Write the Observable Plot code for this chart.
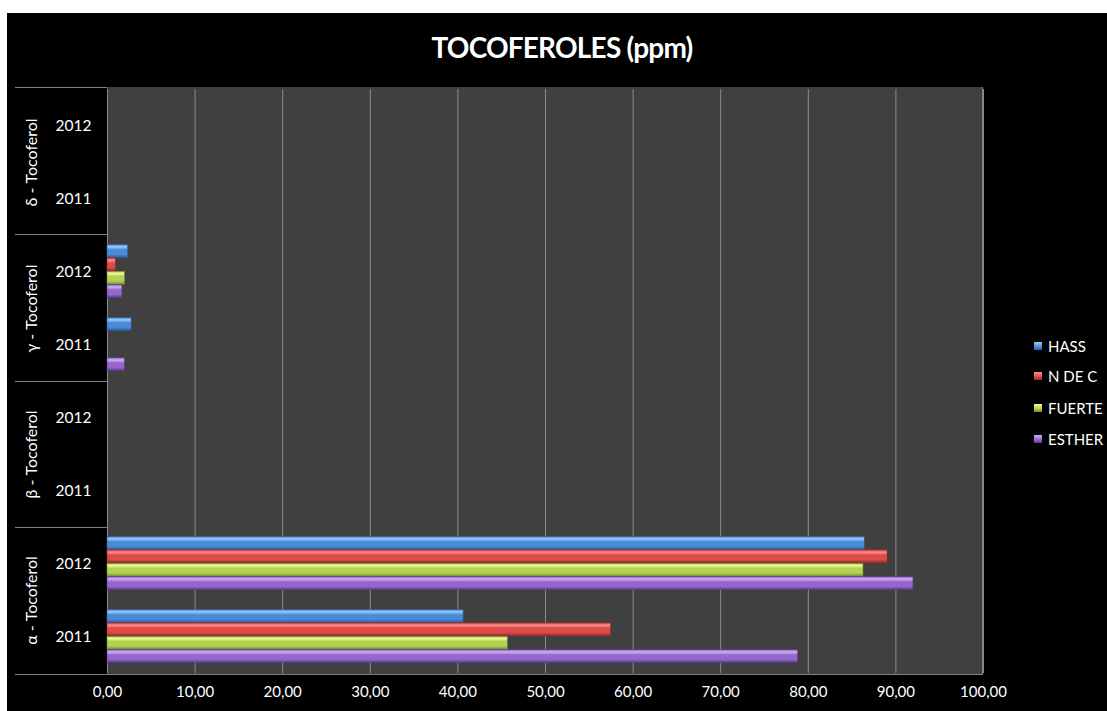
<!DOCTYPE html>
<html>
<head>
<meta charset="utf-8">
<script src="https://cdn.jsdelivr.net/npm/d3@7"></script>
<script src="https://cdn.jsdelivr.net/npm/@observablehq/plot@0.6"></script>
<style>
  html, body { margin: 0; padding: 0; background: #fff; }
  #card { position: absolute; left: 7px; top: 13px; width: 1100px; height: 698px; background: #000; overflow: hidden; font-family: Lato, "Open Sans", sans-serif; color: #fff; }
  #title { position: absolute; left: 0; width: 1110px; top: 17px; line-height: 34px; text-align: center; font-size: 28px; font-weight: bold; letter-spacing: -0.8px; }
  #chart { position: absolute; left: 0; top: 50px; }
  #legend { position: absolute; left: 1027px; top: 0; }
  .item { position: absolute; left: 0; white-space: nowrap; font-size: 15px; line-height: 16px; }
  .sw { position: absolute; left: 0; top: 4px; width: 8px; height: 8px; }
  .lab { position: absolute; left: 14px; top: 0; }
</style>
</head>
<body>
<div id="card">
  <div id="title">TOCOFEROLES (ppm)</div>
  <div id="chart"></div>
  <div id="legend"></div>
</div>
<script>
// ---- data ----
const tocoferoles = ["δ - Tocoferol", "γ - Tocoferol", "β - Tocoferol", "α - Tocoferol"];
const years = ["2012", "2011"];
const series = ["HASS", "N DE C", "FUERTE", "ESTHER"];
// order of values: [α 2011, α 2012, β 2011, β 2012, γ 2011, γ 2012, δ 2011, δ 2012]
const keyToc = ["α - Tocoferol", "α - Tocoferol", "β - Tocoferol", "β - Tocoferol", "γ - Tocoferol", "γ - Tocoferol", "δ - Tocoferol", "δ - Tocoferol"];
const keyYear = ["2011", "2012", "2011", "2012", "2011", "2012", "2011", "2012"];
const hass   = [40.65, 86.45, null, null, 2.75, 2.35, null, null];
const ndec   = [57.50, 89.05, null, null, null, 0.95, null, null];
const fuerte = [45.70, 86.30, null, null, null, 2.00, null, null];
const esther = [78.85, 92.00, null, null, 2.00, 1.70, null, null];
const xTicks = [0, 10, 20, 30, 40, 50, 60, 70, 80, 90, 100];

// colours (light, base, dark)
const palette = [
  ["#9ccaf7", "#4a8bd9", "#2c5c9c"],
  ["#ff8c8c", "#dc4a4a", "#932b2b"],
  ["#ecfa96", "#b3d152", "#6f8d2c"],
  ["#d2aff5", "#9566cb", "#5b3b88"]
];

const valuesBySeries = [hass, ndec, fuerte, esther];
const rows = [];
series.forEach((s, i) => {
  valuesBySeries[i].forEach((v, j) => {
    if (v != null) rows.push({series: s, si: i, toc: keyToc[j], year: keyYear[j], value: v});
  });
});

// ---- layout ----
const W = 1100, H = 648, mT = 24, mB = 37, mL = 100, mR = 124;
const bandH = (H - mT - mB) / tocoferoles.length / years.length;
const pad = 9.5, barH = 13.4;

const fmt = d => d3.format(".2f")(d).replace(".", ",");

const barMarks = series.map((s, i) => Plot.barX(rows.filter(d => d.si === i), {
  x: "value", y: "year", fy: "toc",
  fill: `url(#grad${i})`,
  stroke: palette[i][2], strokeWidth: 0.6,
  insetTop: pad + i * barH,
  insetBottom: bandH - pad - (i + 1) * barH
}));

const plot = Plot.plot({
  width: W, height: H,
  marginTop: mT, marginBottom: mB, marginLeft: mL, marginRight: mR,
  style: {background: "transparent", color: "#fff", fontFamily: "Lato, 'Open Sans', sans-serif", fontSize: "15px"},
  x: {domain: [0, 100], ticks: xTicks, tickFormat: fmt, tickSize: 0, tickPadding: 13, label: null},
  y: {domain: years, padding: 0, tickSize: 0, tickPadding: 16, label: null},
  fy: {domain: tocoferoles, padding: 0, axis: null, label: null},
  marks: [
    Plot.gridX(xTicks, {stroke: "#8c8c8c", strokeOpacity: 1, strokeWidth: 1}),
    Plot.ruleX([0], {stroke: "#8c8c8c", strokeWidth: 1}),
    ...barMarks,
    Plot.axisY({tickSize: 0, tickPadding: 16, fontSize: 15.5, label: null}),
    Plot.axisX({tickSize: 0, tickPadding: 13, tickFormat: fmt, ticks: xTicks, fontSize: 15, label: null, facetAnchor: "bottom"}),
    Plot.text(tocoferoles, {fy: d => d, text: d => d, frameAnchor: "left", dx: -76, rotate: -90, textAnchor: "middle", fill: "#fff", fontSize: 16})
  ]
});

const svg = d3.select(plot);

// single background rectangle for the plotting area, from the scales
const xS = plot.scale("x");
const fyS = plot.scale("fy");
const fyBand = d3.scaleBand().domain(fyS.domain).range(fyS.range).paddingInner(fyS.paddingInner || 0).paddingOuter(fyS.paddingOuter || 0);
const areaTop = fyBand(fyS.domain[0]);
const areaBottom = fyBand(fyS.domain[fyS.domain.length - 1]) + fyBand.bandwidth();
svg.insert("rect", ":first-child")
  .attr("x", xS.range[0]).attr("y", areaTop)
  .attr("width", xS.range[1] - xS.range[0]).attr("height", areaBottom - areaTop)
  .attr("fill", "#404040");

// gradients for the bevelled bars
const defs = svg.insert("defs", ":first-child");
palette.forEach((c, i) => {
  const g = defs.append("linearGradient").attr("id", `grad${i}`).attr("x1", 0).attr("y1", 0).attr("x2", 0).attr("y2", 1);
  g.append("stop").attr("offset", "0%").attr("stop-color", c[1]);
  g.append("stop").attr("offset", "18%").attr("stop-color", c[0]);
  g.append("stop").attr("offset", "40%").attr("stop-color", c[1]);
  g.append("stop").attr("offset", "75%").attr("stop-color", c[1]);
  g.append("stop").attr("offset", "100%").attr("stop-color", c[2]);
});

// group separators on the left, from the fy scale
const bounds = fyS.domain.map(d => fyBand(d)).concat([areaBottom]);
const sep = svg.append("g").attr("stroke", "#808080").attr("stroke-width", 1);
bounds.forEach((b, k) => {
  const last = k === bounds.length - 1;
  sep.append("line").attr("x1", 8).attr("x2", last ? xS.range[1] : xS.range[0]).attr("y1", Math.round(b) + 0.5).attr("y2", Math.round(b) + 0.5);
});
sep.append("line").attr("x1", xS.range[1] - 0.5).attr("x2", xS.range[1] - 0.5).attr("y1", areaTop).attr("y2", areaBottom);

document.getElementById("chart").appendChild(plot);

// legend
const legend = document.getElementById("legend");
const legendTops = [325, 355, 387, 418];
series.forEach((s, i) => {
  const item = document.createElement("div");
  item.className = "item";
  item.style.top = legendTops[i] + "px";
  const sw = document.createElement("div");
  sw.className = "sw";
  sw.style.background = `linear-gradient(${palette[i][0]}, ${palette[i][1]} 60%, ${palette[i][2]})`;
  const lab = document.createElement("div");
  lab.className = "lab";
  lab.textContent = s;
  item.appendChild(sw); item.appendChild(lab);
  legend.appendChild(item);
});
</script>
</body>
</html>
